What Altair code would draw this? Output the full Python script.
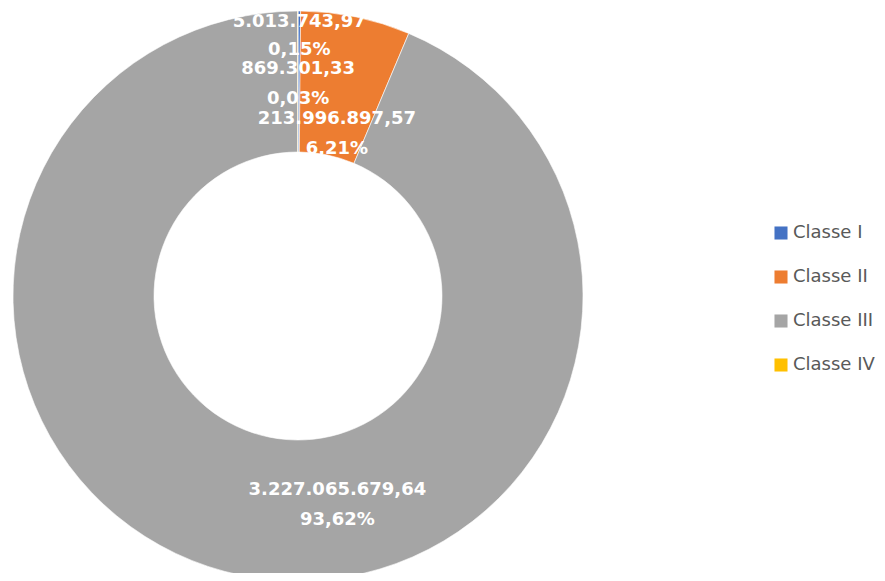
import altair as alt
import pandas as pd

classes = ["Classe I", "Classe II", "Classe III", "Classe IV"]
values = [5013743.97, 213996897.57, 3227065679.64, 869301.33]
value_labels = ["5.013.743,97", "213.996.897,57", "3.227.065.679,64", "869.301,33"]
pct_labels = ["0,15%", "6,21%", "93,62%", "0,03%"]
colors = ["#4472C4", "#ED7D31", "#A5A5A5", "#FFC000"]

df = pd.DataFrame({
    "classe": classes,
    "valor": values,
    "vlabel": value_labels,
    "plabel": pct_labels,
    "idx": list(range(len(classes))),
})

CX, CY = 290, 288

base = alt.Chart(df).encode(
    theta=alt.Theta("valor:Q", stack=True),
    order=alt.Order("idx:Q"),
)

arcs = base.mark_arc(outerRadius=285, innerRadius=144, stroke="white", strokeWidth=0.6).encode(
    x=alt.value(CX), y=alt.value(CY),
    color=alt.Color(
        "classe:N",
        scale=alt.Scale(domain=classes, range=colors),
        legend=alt.Legend(
            title=None, orient="none", legendX=764, legendY=216,
            symbolType="square", symbolSize=170, symbolStrokeWidth=0,
            labelFontSize=18, labelColor="#595959", labelFont="DejaVu Sans",
            rowPadding=26, symbolOffset=0, labelOffset=3, labelLimit=200,
        ),
    ),
)

def label_layer(name, r, dx=0, lh=30):
    return base.transform_filter(alt.datum.classe == name).transform_calculate(
        txt=alt.datum.vlabel + "\n" + alt.datum.plabel
    ).mark_text(
        radius=r, dx=dx, color="white", fontSize=18, fontWeight="bold",
        font="DejaVu Sans", lineBreak="\n", lineHeight=lh, baseline="middle", align="center",
    ).encode(x=alt.value(CX), y=alt.value(CY), text="txt:N")

chart = alt.layer(
    arcs,
    label_layer("Classe I", 274, lh=28),
    label_layer("Classe IV", 227),
    label_layer("Classe II", 180, dx=4),
    label_layer("Classe III", 198),
).properties(
    width=869, height=565, autosize=alt.AutoSizeParams(type="none"), padding=0
).configure_view(stroke=None)

chart.save("out.html", embed_options={"renderer": "svg", "actions": False})
